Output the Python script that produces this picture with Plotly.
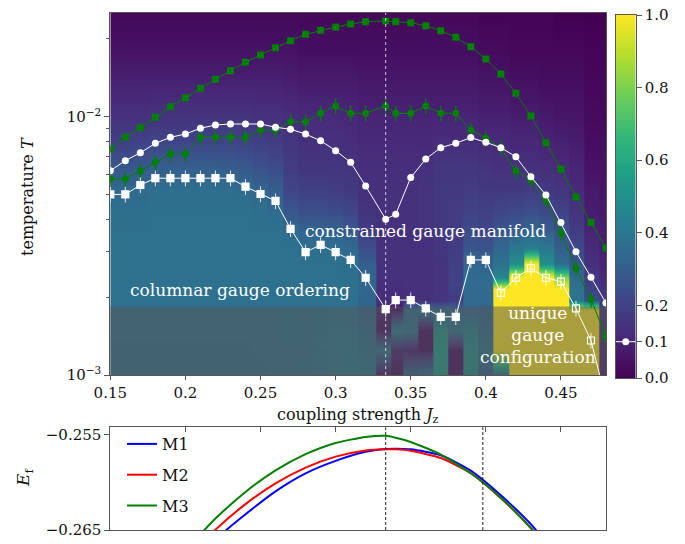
import numpy as np
import plotly.graph_objects as go

# ------------------------------------------------------------------ data
Jz = [0.15, 0.16, 0.17, 0.18, 0.19, 0.20, 0.21, 0.22, 0.23, 0.24, 0.25, 0.26,
      0.27, 0.28, 0.29, 0.30, 0.31, 0.32, 1 / 3, 0.34, 0.35, 0.36, 0.37, 0.38,
      0.39, 0.40, 0.41, 0.42, 0.43, 0.44, 0.45, 0.46, 0.47, 0.48]

T_green_sq = [0.00750, 0.00832, 0.00907, 0.00995, 0.01093, 0.01185, 0.01288, 0.01396,
              0.01507, 0.01624, 0.01734, 0.01850, 0.01969, 0.02084, 0.02160, 0.02225,
              0.02285, 0.02333, 0.02348, 0.02333, 0.02312, 0.02251, 0.02153, 0.02030,
              0.01866, 0.01673, 0.01463, 0.01232, 0.01006, 0.00793, 0.00626, 0.00489,
              0.00389, 0.00310]

T_green_ci = [0.00574, 0.00574, 0.00616, 0.00666, 0.00717, 0.00717, 0.00832, 0.00832,
              0.00832, 0.00832, 0.00888, 0.00888, 0.00956, 0.00956, 0.01031, 0.01100,
              0.01031, 0.01031, 0.01100, 0.01031, 0.01031, 0.01100, 0.01031, 0.01031,
              0.00888, 0.00825, 0.00757, 0.00616, 0.00569, 0.00476, 0.00354, 0.00259,
              0.00196, 0.00141]

T_white_ci = [0.00618, 0.00676, 0.00725, 0.00789, 0.00832, 0.00857, 0.00902, 0.00929,
              0.00937, 0.00937, 0.00937, 0.00910, 0.00894, 0.00857, 0.00807, 0.00739,
              0.00666, 0.00539, 0.00401, 0.00419, 0.00581, 0.00686, 0.00759, 0.00789,
              0.00830, 0.00796, 0.00759, 0.00700, 0.00586, 0.00498, 0.00389, 0.00300,
              0.00239, 0.00190]

T_white_sq = [0.00500, 0.00500, 0.00544, 0.00578, 0.00578, 0.00578, 0.00578, 0.00578,
              0.00578, 0.00536, 0.00502, 0.00472, 0.00368, 0.00299, 0.00319, 0.00299,
              0.00279, 0.00238, 0.00180, 0.00195, 0.00195, 0.00181, 0.00168, 0.00168,
              0.00279, 0.00279, 0.00208, 0.00238, 0.00259, 0.00238, 0.00230, 0.00181,
              0.00136, 0.00080]

err_percent = 7          # relative error bars (%)
open_from = 0.405        # white squares beyond this Jz are drawn open
T_hidden = 0.00184       # shaded low-temperature region
J_special = 1 / 3
J_second = 0.398
contour_level = 0.1
J_range = [0.15, 0.48]

# bottom panel
Jz_E = [0.20, 0.22, 0.24, 0.26, 0.28, 0.30, 0.32, 1 / 3, 0.34, 0.35, 0.37, 0.39, 0.41, 0.43, 0.45]
E_M1 = [-0.26920, -0.26600, -0.26335, -0.26093, -0.25904, -0.25773, -0.25678, -0.25649,
        -0.25645, -0.25652, -0.25714, -0.25875, -0.26135, -0.26439, -0.26819]
E_M2 = [-0.26816, -0.26496, -0.26228, -0.26010, -0.25844, -0.25728, -0.25664, -0.25650,
        -0.25652, -0.25667, -0.25743, -0.25902, -0.26165, -0.26480, -0.26870]
E_M3 = [-0.26715, -0.26380, -0.26100, -0.25874, -0.25703, -0.25585, -0.25522, -0.25510,
        -0.25530, -0.25574, -0.25707, -0.25903, -0.26161, -0.26481, -0.26864]

# background map: rows of temperature, one profile (bottom -> top) per Jz column
T_rows = [0.00100, 0.00125, 0.00150, 0.00178, 0.00195, 0.00215, 0.00240, 0.00270, 0.00310,
          0.00360, 0.00430, 0.00520, 0.00640, 0.00800, 0.01000, 0.01300, 0.01800, 0.02500]
col_profiles = [
    [0.36, 0.36, 0.37, 0.37, 0.37, 0.37, 0.37, 0.37, 0.37, 0.37, 0.36, 0.34, 0.27, 0.19, 0.14, 0.10, 0.05, 0.02],
    [0.36, 0.36, 0.37, 0.37, 0.37, 0.37, 0.37, 0.37, 0.37, 0.37, 0.36, 0.34, 0.27, 0.19, 0.14, 0.10, 0.05, 0.02],
    [0.36, 0.36, 0.37, 0.37, 0.37, 0.37, 0.37, 0.37, 0.37, 0.37, 0.36, 0.35, 0.28, 0.20, 0.14, 0.10, 0.05, 0.02],
    [0.36, 0.36, 0.37, 0.37, 0.37, 0.37, 0.37, 0.37, 0.37, 0.37, 0.37, 0.36, 0.30, 0.21, 0.15, 0.10, 0.05, 0.02],
    [0.36, 0.36, 0.37, 0.37, 0.37, 0.37, 0.37, 0.37, 0.37, 0.37, 0.37, 0.36, 0.30, 0.21, 0.15, 0.10, 0.05, 0.02],
    [0.36, 0.36, 0.37, 0.37, 0.37, 0.37, 0.37, 0.37, 0.37, 0.37, 0.37, 0.36, 0.30, 0.21, 0.15, 0.10, 0.05, 0.02],
    [0.36, 0.36, 0.37, 0.37, 0.37, 0.37, 0.37, 0.37, 0.37, 0.37, 0.37, 0.36, 0.30, 0.21, 0.15, 0.10, 0.05, 0.02],
    [0.36, 0.36, 0.37, 0.37, 0.37, 0.37, 0.37, 0.37, 0.37, 0.37, 0.37, 0.36, 0.30, 0.21, 0.15, 0.10, 0.05, 0.02],
    [0.36, 0.36, 0.37, 0.37, 0.37, 0.37, 0.37, 0.37, 0.37, 0.37, 0.37, 0.36, 0.29, 0.21, 0.15, 0.10, 0.05, 0.02],
    [0.36, 0.36, 0.37, 0.37, 0.37, 0.37, 0.37, 0.37, 0.37, 0.37, 0.37, 0.35, 0.28, 0.20, 0.15, 0.10, 0.05, 0.02],
    [0.36, 0.37, 0.37, 0.37, 0.37, 0.37, 0.37, 0.37, 0.37, 0.37, 0.36, 0.33, 0.25, 0.19, 0.14, 0.10, 0.05, 0.02],
    [0.37, 0.37, 0.37, 0.37, 0.37, 0.37, 0.37, 0.37, 0.37, 0.37, 0.35, 0.30, 0.23, 0.18, 0.14, 0.10, 0.05, 0.02],
    [0.37, 0.37, 0.38, 0.37, 0.37, 0.37, 0.37, 0.37, 0.37, 0.35, 0.27, 0.21, 0.18, 0.16, 0.13, 0.09, 0.05, 0.02],
    [0.38, 0.37, 0.37, 0.37, 0.37, 0.37, 0.37, 0.37, 0.36, 0.32, 0.24, 0.19, 0.16, 0.14, 0.12, 0.08, 0.04, 0.02],
    [0.38, 0.39, 0.38, 0.37, 0.37, 0.37, 0.37, 0.37, 0.36, 0.33, 0.24, 0.19, 0.16, 0.14, 0.12, 0.08, 0.04, 0.02],
    [0.40, 0.41, 0.40, 0.38, 0.37, 0.37, 0.37, 0.37, 0.36, 0.32, 0.23, 0.18, 0.16, 0.14, 0.12, 0.08, 0.04, 0.02],
    [0.42, 0.42, 0.40, 0.38, 0.37, 0.37, 0.37, 0.36, 0.34, 0.28, 0.21, 0.17, 0.15, 0.13, 0.11, 0.08, 0.04, 0.02],
    [0.40, 0.38, 0.36, 0.32, 0.32, 0.33, 0.33, 0.30, 0.24, 0.18, 0.15, 0.14, 0.13, 0.12, 0.10, 0.07, 0.04, 0.02],
    [0.05, 0.40, 0.05, 0.10, 0.13, 0.13, 0.14, 0.14, 0.14, 0.14, 0.14, 0.14, 0.13, 0.12, 0.10, 0.07, 0.04, 0.02],
    [0.05, 0.10, 0.45, 0.05, 0.13, 0.13, 0.14, 0.14, 0.14, 0.14, 0.14, 0.14, 0.13, 0.12, 0.10, 0.07, 0.04, 0.02],
    [0.35, 0.08, 0.40, 0.35, 0.14, 0.14, 0.14, 0.14, 0.14, 0.14, 0.14, 0.14, 0.13, 0.12, 0.10, 0.07, 0.04, 0.02],
    [0.40, 0.05, 0.05, 0.40, 0.14, 0.14, 0.14, 0.14, 0.14, 0.15, 0.15, 0.15, 0.14, 0.12, 0.10, 0.07, 0.04, 0.02],
    [0.55, 0.55, 0.50, 0.35, 0.15, 0.15, 0.15, 0.15, 0.16, 0.17, 0.17, 0.17, 0.16, 0.13, 0.10, 0.07, 0.04, 0.02],
    [0.05, 0.05, 0.40, 0.35, 0.18, 0.20, 0.20, 0.19, 0.18, 0.18, 0.18, 0.17, 0.16, 0.13, 0.10, 0.07, 0.04, 0.02],
    [0.50, 0.50, 0.45, 0.32, 0.34, 0.35, 0.35, 0.33, 0.27, 0.23, 0.20, 0.18, 0.16, 0.13, 0.10, 0.07, 0.04, 0.02],
    [0.30, 0.40, 0.35, 0.32, 0.34, 0.35, 0.35, 0.32, 0.26, 0.22, 0.19, 0.17, 0.15, 0.12, 0.09, 0.06, 0.03, 0.01],
    [0.40, 1.00, 1.00, 1.00, 1.00, 1.00, 0.45, 0.38, 0.33, 0.27, 0.21, 0.17, 0.14, 0.12, 0.09, 0.06, 0.03, 0.01],
    [1.00, 1.00, 1.00, 1.00, 1.00, 1.00, 1.00, 0.50, 0.40, 0.30, 0.22, 0.17, 0.14, 0.11, 0.08, 0.05, 0.02, 0.01],
    [1.00, 1.00, 1.00, 1.00, 1.00, 1.00, 1.00, 1.00, 0.42, 0.33, 0.24, 0.18, 0.14, 0.11, 0.08, 0.05, 0.02, 0.01],
    [1.00, 1.00, 1.00, 1.00, 1.00, 1.00, 1.00, 0.50, 0.40, 0.30, 0.22, 0.17, 0.13, 0.10, 0.07, 0.04, 0.02, 0.01],
    [1.00, 1.00, 1.00, 1.00, 1.00, 1.00, 0.80, 0.36, 0.30, 0.25, 0.20, 0.16, 0.12, 0.09, 0.06, 0.04, 0.02, 0.00],
    [1.00, 1.00, 1.00, 1.00, 0.38, 0.38, 0.34, 0.27, 0.22, 0.18, 0.15, 0.12, 0.10, 0.08, 0.06, 0.04, 0.02, 0.00],
    [1.00, 1.00, 1.00, 1.00, 0.24, 0.20, 0.17, 0.14, 0.12, 0.10, 0.08, 0.07, 0.05, 0.04, 0.03, 0.02, 0.01, 0.00],
    [0.10, 0.10, 0.12, 0.15, 0.18, 0.15, 0.12, 0.10, 0.09, 0.08, 0.07, 0.06, 0.05, 0.04, 0.03, 0.02, 0.01, 0.00],
]

x_ticks = [0.15, 0.20, 0.25, 0.30, 0.35, 0.40, 0.45]
x_ticktext = ["0.15", "0.2", "0.25", "0.3", "0.35", "0.4", "0.45"]
cb_ticks = [0.0, 0.1, 0.2, 0.4, 0.6, 0.8, 1.0]
cb_ticktext = ["0.0", "0.1", "0.2", "0.4", "0.6", "0.8", "1.0"]

# ------------------------------------------------------------------ layout helpers
W, H = 685, 544
def px(v):
    return v / W
def py(v):
    return 1 - v / H

FONT = "DejaVu Serif"
FRAME = "#555555"

# heatmap columns: piecewise-constant in Jz, smooth in T
c = np.array(Jz)
edges = np.concatenate([[c[0] - (c[1] - c[0]) / 2], (c[:-1] + c[1:]) / 2,
                        [c[-1] + (c[-1] - c[-2]) / 2]])
eps = 0.0003
hx = []
for i in range(len(c)):
    hx += [edges[i] + eps, edges[i + 1] - eps]
hz = [[p[r] for p in col_profiles for _ in (0, 1)] for r in range(len(T_rows))]

fig = go.Figure()

fig.add_trace(go.Heatmap(x=hx, y=T_rows, z=hz, colorscale="Viridis", zmin=0, zmax=1,
                         zsmooth="best", showscale=False, hoverinfo="skip",
                         xaxis="x", yaxis="y"))

# shaded (hidden) low temperature region
fig.add_trace(go.Scatter(x=[J_range[0] - 0.01, J_range[1] + 0.01, J_range[1] + 0.01, J_range[0] - 0.01],
                         y=[0.0008, 0.0008, T_hidden, T_hidden], fill="toself",
                         fillcolor="rgba(85,85,85,0.5)", line=dict(width=0), mode="lines",
                         hoverinfo="skip", showlegend=False, xaxis="x", yaxis="y"))

fig.add_trace(go.Scatter(x=Jz, y=T_green_sq, mode="lines+markers",
                         line=dict(color="green", width=1),
                         marker=dict(symbol="square", size=7, color="green"),
                         showlegend=False, xaxis="x", yaxis="y"))
fig.add_trace(go.Scatter(x=Jz, y=T_green_ci, mode="lines+markers",
                         line=dict(color="green", width=1),
                         marker=dict(symbol="circle", size=7, color="green"),
                         error_y=dict(type="percent", value=err_percent, color="green",
                                      thickness=1.2, width=0),
                         showlegend=False, xaxis="x", yaxis="y"))
fig.add_trace(go.Scatter(x=Jz, y=T_white_ci, mode="lines+markers",
                         line=dict(color="white", width=1),
                         marker=dict(symbol="circle", size=7, color="white"),
                         showlegend=False, xaxis="x", yaxis="y"))
sq_symbols = ["square" if j < open_from else "square-open" for j in Jz]
fig.add_trace(go.Scatter(x=Jz, y=T_white_sq, mode="lines+markers",
                         line=dict(color="white", width=1),
                         marker=dict(symbol=sq_symbols, size=7, color="white",
                                     line=dict(color="white", width=1.2)),
                         error_y=dict(type="percent", value=err_percent,
                                      color="rgba(255,255,255,0.85)", thickness=1, width=0),
                         showlegend=False, xaxis="x", yaxis="y"))

# bottom panel
for name, vals, col in [("M1", E_M1, "blue"), ("M2", E_M2, "red"), ("M3", E_M3, "green")]:
    fig.add_trace(go.Scatter(x=Jz_E, y=vals, mode="lines", name=name,
                             line=dict(color=col, width=2, shape="spline", smoothing=0.6),
                             legendgroup=name, xaxis="x2", yaxis="y2"))

# custom colour bar
cb_levels = np.linspace(0, 1, 256)
fig.add_trace(go.Heatmap(x=[0.5], y=cb_levels, z=[[v] for v in cb_levels],
                         colorscale="Viridis", zmin=0, zmax=1, showscale=False,
                         hoverinfo="skip", xaxis="x3", yaxis="y3"))
fig.add_trace(go.Scatter(x=[0, 1], y=[contour_level, contour_level], mode="lines",
                         line=dict(color="white", width=1), showlegend=False,
                         hoverinfo="skip", xaxis="x3", yaxis="y3"))
fig.add_trace(go.Scatter(x=[0.5], y=[contour_level], mode="markers",
                         marker=dict(color="white", size=7), showlegend=False,
                         hoverinfo="skip", xaxis="x3", yaxis="y3"))

axis_common = dict(showgrid=False, zeroline=False, showline=True, linecolor=FRAME,
                   linewidth=1, mirror=True, tickcolor=FRAME, automargin=False,
                   tickfont=dict(family=FONT, size=15, color="#111"))

fig.update_layout(
    width=W, height=H, margin=dict(l=0, r=0, t=0, b=0, autoexpand=False),
    paper_bgcolor="white", plot_bgcolor="white",
    font=dict(family=FONT, color="#111"),
    xaxis=dict(domain=[px(110.3), px(606)], range=J_range, anchor="y",
               tickvals=x_ticks, ticktext=x_ticktext, ticks="outside", ticklen=4,
               **axis_common),
    yaxis=dict(domain=[py(375), py(13)], type="log", range=[-3, -1.5985], anchor="x",
               tickvals=[0.001, 0.01], ticktext=["10<sup>−3</sup>", "10<sup>−2</sup>"],
               ticks="outside", ticklen=5,
               minor=dict(tickvals=[0.002, 0.003, 0.004, 0.005, 0.006, 0.007, 0.008, 0.009, 0.02],
                          ticks="outside", ticklen=3, tickcolor=FRAME),
               **axis_common),
    xaxis2=dict(domain=[px(110.3), px(606)], range=J_range, anchor="y2", side="top",
                tickvals=x_ticks[1:], ticks="inside", ticklen=5, showticklabels=False,
                **axis_common),
    yaxis2=dict(domain=[py(530), py(427.3)], range=[-0.265, -0.2542], anchor="x2",
                tickvals=[-0.265, -0.255], ticktext=["−0.265", "−0.255"],
                ticks="outside", ticklen=5, **axis_common),
    xaxis3=dict(domain=[px(615.7), px(635.7)], range=[0, 1], anchor="y3",
                showticklabels=False, ticks="", **axis_common),
    yaxis3=dict(domain=[py(378), py(15)], range=[0, 1], anchor="x3", side="right",
                tickvals=cb_ticks, ticktext=cb_ticktext, ticks="outside", ticklen=5,
                **axis_common),
    legend=dict(x=px(122), y=py(427), xanchor="left", yanchor="top",
                bgcolor="rgba(0,0,0,0)", font=dict(family=FONT, size=16, color="#111"),
                tracegroupgap=7),
    shapes=[
        dict(type="line", xref="x", yref="y domain", x0=J_special, x1=J_special, y0=0, y1=1,
             line=dict(color="rgba(255,255,255,0.75)", width=1, dash="dot"), layer="above"),
        dict(type="line", xref="x2", yref="y2 domain", x0=J_special, x1=J_special, y0=0, y1=1,
             line=dict(color="#222", width=1, dash="3px,2px"), layer="above"),
        dict(type="line", xref="x2", yref="y2 domain", x0=J_second, x1=J_second, y0=0, y1=1,
             line=dict(color="#222", width=1, dash="3px,2px"), layer="above"),
    ],
)

annos = [
    dict(text="constrained gauge manifold", x=px(425), y=py(231), color="white", size=17, angle=0),
    dict(text="columnar gauge ordering", x=px(240), y=py(290), color="white", size=17, angle=0),
    dict(text="unique<br>gauge<br>configuration", x=px(538), y=py(335), color="white", size=17, angle=0),
    dict(text="temperature <i>T</i>", x=px(28), y=py(197), color="#111", size=16, angle=-90),
    dict(text="coupling strength <i>J</i><sub>z</sub>", x=px(358), y=py(415), color="#111", size=16, angle=0),
    dict(text="<i>E</i><sub>f</sub>", x=px(24), y=py(478), color="#111", size=17, angle=-90),
]
for a in annos:
    fig.add_annotation(text=a["text"], x=a["x"], y=a["y"], xref="paper", yref="paper",
                       xanchor="center", yanchor="middle", showarrow=False,
                       textangle=a["angle"],
                       font=dict(family=FONT, size=a["size"], color=a["color"]))

fig.write_html("out.html")
